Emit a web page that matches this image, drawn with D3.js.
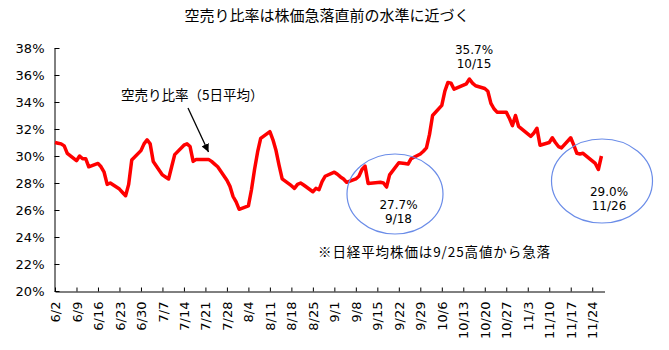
<!DOCTYPE html>
<html><head><meta charset="utf-8">
<script src="https://cdn.jsdelivr.net/npm/d3@7"></script>
<style>
body{margin:0;background:#fff;}
svg{display:block;font-family:"DejaVu Sans","Noto Sans CJK JP",sans-serif;}
.jp{font-family:"Noto Sans CJK JP",sans-serif;}
</style></head><body>
<svg id="c" width="669" height="350"></svg>
<script>
// ---- data (2014, trading days) ----
const dates = ["6/2","6/3","6/4","6/5","6/6","6/9","6/10","6/11","6/12","6/13","6/16","6/17","6/18","6/19","6/20","6/23","6/24","6/25","6/26","6/27",
"6/30","7/1","7/2","7/3","7/4","7/7","7/8","7/9","7/10","7/11","7/14","7/15","7/16","7/17","7/18","7/22","7/23","7/24","7/25",
"7/28","7/29","7/30","7/31","8/1","8/4","8/5","8/6","8/7","8/8","8/11","8/12","8/13","8/14","8/15","8/18","8/19","8/20","8/21","8/22",
"8/25","8/26","8/27","8/28","8/29","9/1","9/2","9/3","9/4","9/5","9/8","9/9","9/10","9/11","9/12","9/16","9/17","9/18","9/19",
"9/22","9/24","9/25","9/26","9/29","9/30","10/1","10/2","10/3","10/6","10/7","10/8","10/9","10/10","10/14","10/15","10/16","10/17",
"10/20","10/21","10/22","10/23","10/24","10/27","10/28","10/29","10/30","10/31","11/4","11/5","11/6","11/7","11/10","11/11","11/12","11/13","11/14",
"11/17","11/18","11/19","11/20","11/21","11/25","11/26","11/27"];
const shortRatio = [31.0,30.95,30.9,30.75,30.2,29.65,30.0,29.8,29.8,29.2,29.45,29.2,28.8,27.9,28.0,27.55,27.3,27.06,27.9,29.7,
30.4,30.9,31.2,30.9,29.6,28.6,28.45,28.3,29.2,30.1,30.8,30.9,30.7,29.6,29.75,29.75,29.6,29.4,29.2,
28.2,27.75,27.0,26.6,26.05,26.3,27.5,29.0,30.3,31.3,31.8,31.2,30.4,29.3,28.3,27.8,27.6,27.9,28.0,27.85,
27.35,27.6,27.5,28.1,28.5,28.8,28.65,28.45,28.3,28.05,28.3,28.5,29.0,29.25,27.97,28.05,28.0,27.7,28.6,
29.5,29.45,29.4,29.8,30.15,30.35,30.6,31.6,33.0,33.75,34.8,35.45,35.4,34.95,35.35,35.7,35.4,35.2,
35.0,34.8,33.9,33.5,33.25,33.25,32.8,32.25,33.0,32.2,31.45,31.7,32.05,30.8,31.0,31.35,31.0,30.7,30.6,
31.35,30.8,30.2,30.15,30.2,29.45,29.0,30.0];
const xTickLabels = ["6/2","6/9","6/16","6/23","6/30","7/7","7/14","7/21","7/28","8/4","8/11","8/18","8/25","9/1","9/8","9/15","9/22","9/29","10/6","10/13","10/20","10/27","11/3","11/10","11/17","11/24"];
const yTicks = [20,22,24,26,28,30,32,34,36,38];
const title = "空売り比率は株価急落直前の水準に近づく";
const seriesName = "空売り比率（5日平均）";
const note = "※日経平均株価は9/25高値から急落";

const parse = s => { const [m,d] = s.split("/").map(Number); return new Date(2014, m-1, d); };
const data = dates.map((d,i) => ({date: parse(d), v: shortRatio[i]}));

const svg = d3.select("#c");
const x = d3.scaleTime().domain([new Date(2014,5,2), new Date(2014,10,28)]).range([55, 604.5]);
const y = d3.scaleLinear().domain([20,38]).range([291,48]);

// title
svg.append("text").attr("class","jp").attr("x",327).attr("y",21).attr("text-anchor","middle")
  .attr("font-size",15).attr("fill","#000").text(title);

// y axis
const ya = svg.append("g").attr("transform","translate(54.5,0)")
  .call(d3.axisLeft(y).tickValues(yTicks).tickFormat(d => d + "%").tickSizeInner(-5).tickSizeOuter(0).tickPadding(10));
ya.selectAll("text").attr("font-size",13).attr("fill","#000").attr("font-family","DejaVu Sans");
ya.selectAll("line,path").attr("stroke","#000");

// x axis
const xa = svg.append("g").attr("transform","translate(0,291.5)")
  .call(d3.axisBottom(x).tickValues(xTickLabels.map(parse)).tickFormat((d,i) => xTickLabels[i]).tickSizeInner(-4).tickSizeOuter(0));
xa.selectAll("text").attr("font-size",13).attr("fill","#000").attr("font-family","DejaVu Sans")
  .attr("transform","rotate(-90)").attr("text-anchor","end").attr("x",-10).attr("y",0).attr("dy","0.35em");
xa.selectAll("line,path").attr("stroke","#000");

// line
svg.append("path").datum(data).attr("fill","none").attr("stroke","#ff0000").attr("stroke-width",3.5)
  .attr("stroke-linejoin","round")
  .attr("d", d3.line().x(d => x(d.date)).y(d => y(d.v)));

// ellipses
svg.append("ellipse").attr("cx",395).attr("cy",194).attr("rx",48).attr("ry",40)
  .attr("fill","none").attr("stroke","#6a8ce8").attr("stroke-width",1.2);
svg.append("ellipse").attr("cx",602).attr("cy",181).attr("rx",50.5).attr("ry",42)
  .attr("fill","none").attr("stroke","#6a8ce8").attr("stroke-width",1.2);

// annotations
const ann = svg.append("g").attr("font-size",12).attr("fill","#000").attr("text-anchor","middle");
ann.append("text").attr("x",474).attr("y",54).text("35.7%");
ann.append("text").attr("x",474).attr("y",67.5).text("10/15");
ann.append("text").attr("x",398.5).attr("y",209).text("27.7%");
ann.append("text").attr("x",398.5).attr("y",222.5).text("9/18");
ann.append("text").attr("x",609).attr("y",196).text("29.0%");
ann.append("text").attr("x",609).attr("y",209.5).text("11/26");

svg.append("text").attr("class","jp").attr("x",121).attr("y",100).attr("font-size",13.5).text(seriesName);
svg.append("text").attr("class","jp").attr("x",318).attr("y",256.5).attr("font-size",13.5)
  .attr("letter-spacing","0.9px").text(note);

// arrow
const defs = svg.append("defs");
defs.append("marker").attr("id","ah").attr("viewBox","0 0 10 10").attr("refX",10).attr("refY",5)
  .attr("markerWidth",8).attr("markerHeight",8).attr("markerUnits","userSpaceOnUse").attr("orient","auto")
  .append("path").attr("d","M0,0 L10,5 L0,10 z").attr("fill","#000");
svg.append("line").attr("x1",188).attr("y1",108).attr("x2",208.5).attr("y2",152)
  .attr("stroke","#000").attr("stroke-width",1.3).attr("marker-end","url(#ah)");
</script></body></html>
